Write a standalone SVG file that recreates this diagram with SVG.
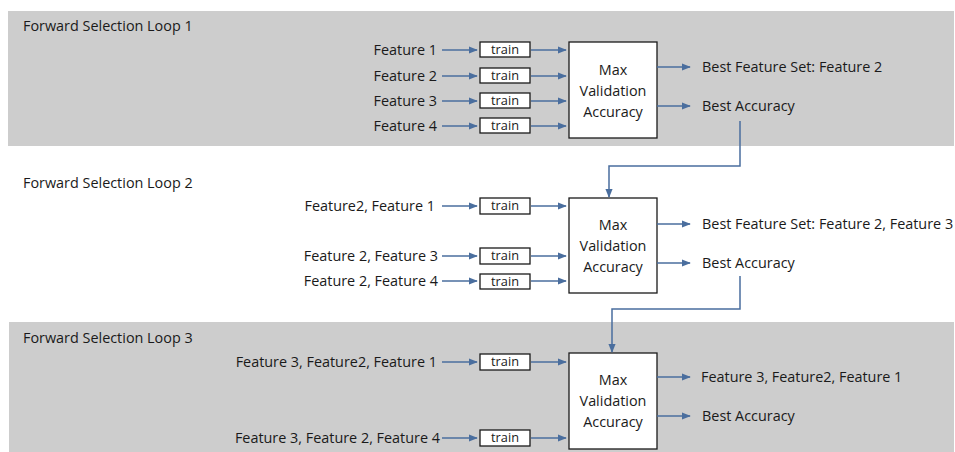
<svg xmlns="http://www.w3.org/2000/svg" width="955" height="452" viewBox="0 0 955 452">
  <style>
    .band { fill: #cdcdcd; }
    text { font-family: "Open Sans", "Noto Sans", "DejaVu Sans", sans-serif; font-size: 14.4px; fill: #1a1a1a; }
    .lbl { text-anchor: end; }
    .out { text-anchor: start; }
    .mid { text-anchor: middle; }
    .small { font-size: 12.8px; }
    .box { fill: #ffffff; stroke: #1a1a1a; stroke-width: 1.3; }
    .conn { fill: none; stroke: #4a6e9e; stroke-width: 1.5; marker-end: url(#arrow); }
  </style>
  <defs>
    <marker id="arrow" viewBox="0 0 10 10" refX="9" refY="5" markerWidth="6" markerHeight="6" markerUnits="strokeWidth" orient="auto">
      <path d="M0,1 L10,5 L0,9 Z" fill="#4a6e9e"/>
    </marker>
  </defs>

  <!-- background bands for loops 1 and 3 -->
  <rect class="band" x="8" y="11" width="946" height="135"/>
  <rect class="band" x="9" y="322" width="945" height="130"/>

  <g id="loop1-title"><text x="23" y="31">Forward Selection Loop 1</text></g>
  <g id="loop2-title"><text x="23" y="188">Forward Selection Loop 2</text></g>
  <g id="loop3-title"><text x="23" y="343">Forward Selection Loop 3</text></g>

  <!-- Loop 1 -->
  <g id="l1-in1"><text class="lbl" x="437" y="55">Feature 1</text></g>
  <g id="l1-in2"><text class="lbl" x="437" y="81">Feature 2</text></g>
  <g id="l1-in3"><text class="lbl" x="437" y="106">Feature 3</text></g>
  <g id="l1-in4"><text class="lbl" x="437" y="131">Feature 4</text></g>
  <g id="l1-train1"><rect class="box" x="480" y="42" width="50" height="15"/><text class="mid small" x="505" y="54">train</text></g>
  <g id="l1-train2"><rect class="box" x="480" y="68" width="50" height="15"/><text class="mid small" x="505" y="80">train</text></g>
  <g id="l1-train3"><rect class="box" x="480" y="93" width="50" height="15"/><text class="mid small" x="505" y="105">train</text></g>
  <g id="l1-train4"><rect class="box" x="480" y="118" width="50" height="15"/><text class="mid small" x="505" y="130">train</text></g>
  <g id="l1-max">
    <rect class="box" x="569" y="42" width="88" height="96"/>
    <text class="mid" x="613" y="75">Max</text>
    <text class="mid" x="613" y="96">Validation</text>
    <text class="mid" x="613" y="117">Accuracy</text>
  </g>
  <g id="l1-set"><text class="out" x="702" y="72">Best Feature Set: Feature 2</text></g>
  <g id="l1-acc"><text class="out" x="702" y="111">Best Accuracy</text></g>

  <!-- Loop 2 -->
  <g id="l2-in1"><text class="lbl" x="435" y="211">Feature2, Feature 1</text></g>
  <g id="l2-in2"><text class="lbl" x="438" y="261">Feature 2, Feature 3</text></g>
  <g id="l2-in3"><text class="lbl" x="438" y="286">Feature 2, Feature 4</text></g>
  <g id="l2-train1"><rect class="box" x="480" y="198" width="50" height="16"/><text class="mid small" x="505" y="210">train</text></g>
  <g id="l2-train2"><rect class="box" x="480" y="248" width="50" height="16"/><text class="mid small" x="505" y="260">train</text></g>
  <g id="l2-train3"><rect class="box" x="480" y="274" width="50" height="15"/><text class="mid small" x="505" y="286">train</text></g>
  <g id="l2-max">
    <rect class="box" x="569" y="198" width="88" height="95"/>
    <text class="mid" x="613" y="230">Max</text>
    <text class="mid" x="613" y="251">Validation</text>
    <text class="mid" x="613" y="272">Accuracy</text>
  </g>
  <g id="l2-set"><text class="out" x="702" y="229">Best Feature Set: Feature 2, Feature 3</text></g>
  <g id="l2-acc"><text class="out" x="702" y="268">Best Accuracy</text></g>

  <!-- Loop 3 -->
  <g id="l3-in1"><text class="lbl" x="437" y="367">Feature 3, Feature2, Feature 1</text></g>
  <g id="l3-in2"><text class="lbl" x="440" y="443">Feature 3, Feature 2, Feature 4</text></g>
  <g id="l3-train1"><rect class="box" x="480" y="354" width="50" height="16"/><text class="mid small" x="505" y="366">train</text></g>
  <g id="l3-train2"><rect class="box" x="480" y="430" width="50" height="16"/><text class="mid small" x="505" y="442">train</text></g>
  <g id="l3-max">
    <rect class="box" x="569" y="353" width="88" height="96"/>
    <text class="mid" x="613" y="385">Max</text>
    <text class="mid" x="613" y="406">Validation</text>
    <text class="mid" x="613" y="427">Accuracy</text>
  </g>
  <g id="l3-set"><text class="out" x="701" y="382">Feature 3, Feature2, Feature 1</text></g>
  <g id="l3-acc"><text class="out" x="702" y="421">Best Accuracy</text></g>

  <g id="connectors">
    <!-- loop 1 -->
    <path class="conn" d="M442,50 H477"/>
    <path class="conn" d="M442,76 H477"/>
    <path class="conn" d="M442,101 H477"/>
    <path class="conn" d="M442,126 H477"/>
    <path class="conn" d="M531,50 H566"/>
    <path class="conn" d="M531,76 H566"/>
    <path class="conn" d="M531,101 H566"/>
    <path class="conn" d="M531,126 H566"/>
    <path class="conn" d="M657,67 H690"/>
    <path class="conn" d="M657,106 H690"/>
    <path class="conn" d="M740,121 V166 H609 V197"/>
    <!-- loop 2 -->
    <path class="conn" d="M442,206 H477"/>
    <path class="conn" d="M442,256 H477"/>
    <path class="conn" d="M442,281 H477"/>
    <path class="conn" d="M531,206 H566"/>
    <path class="conn" d="M531,256 H566"/>
    <path class="conn" d="M531,281 H566"/>
    <path class="conn" d="M657,224 H690"/>
    <path class="conn" d="M657,263 H690"/>
    <path class="conn" d="M740,276 V309 H612 V352"/>
    <!-- loop 3 -->
    <path class="conn" d="M442,362 H477"/>
    <path class="conn" d="M442,438 H477"/>
    <path class="conn" d="M531,362 H566"/>
    <path class="conn" d="M531,438 H566"/>
    <path class="conn" d="M657,377 H690"/>
    <path class="conn" d="M657,416 H690"/>
  </g>
</svg>
